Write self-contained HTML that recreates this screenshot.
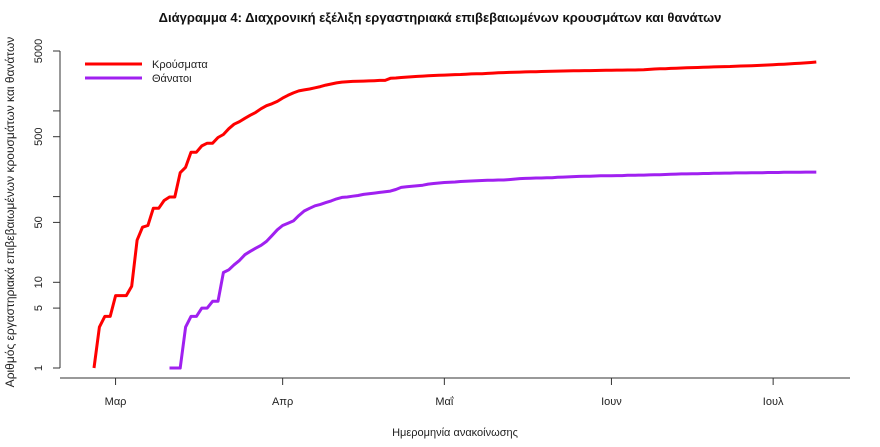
<!DOCTYPE html>
<html><head><meta charset="utf-8"><style>
body{margin:0;background:#fff;}
svg{display:block;font-family:"Liberation Sans","DejaVu Sans",sans-serif;}
</style></head><body>
<svg id="chart" width="880" height="447">
<text x="440" y="22" text-anchor="middle" font-size="13" font-weight="bold" fill="#111">Διάγραμμα 4: Διαχρονική εξέλιξη εργαστηριακά επιβεβαιωμένων κρουσμάτων και θανάτων</text>
<text transform="translate(14,212) rotate(-90)" text-anchor="middle" font-size="12" fill="#222">Αριθμός εργαστηριακά επιβεβαιωμένων κρουσμάτων και θανάτων</text>
<text x="455" y="436" text-anchor="middle" font-size="11" fill="#222">Ημερομηνία ανακοίνωσης</text>
<line x1="60" y1="51" x2="60" y2="368" stroke="#333"/>
<line x1="60" y1="378" x2="850" y2="378" stroke="#333"/>
<g id="yt"></g><g id="xt"></g><g id="series"></g>
<g>
<line x1="85" y1="64" x2="142" y2="64" stroke="#ff0000" stroke-width="3"/>
<text x="152" y="68" font-size="11" fill="#222">Κρούσματα</text>
<line x1="85" y1="78" x2="142" y2="78" stroke="#a020f0" stroke-width="3"/>
<text x="152" y="82" font-size="11" fill="#222">Θάνατοι</text>
</g>
</svg>
<script>
// day index 0 = 26 Feb
const cases = [1,3,4,4,7,7,7,9,31,44,
46,73,73,90,99,99,190,220,330,330,
390,420,420,490,530,620,700,750,820,890,
960,1060,1150,1210,1290,1410,1520,1620,1710,1760,
1800,1860,1920,2000,2060,2120,2170,2190,2210,2220,
2230,2240,2250,2270,2270,2400,2420,2450,2480,2500,
2530,2550,2570,2590,2600,2620,2630,2650,2660,2680,
2700,2710,2720,2740,2760,2780,2800,2810,2820,2840,
2850,2860,2870,2880,2890,2900,2910,2920,2930,2940,
2940,2950,2950,2960,2970,2980,2980,2990,2990,3000,
3000,3010,3020,3050,3080,3100,3110,3130,3150,3170,
3180,3200,3210,3230,3240,3260,3270,3290,3300,3320,
3340,3350,3370,3390,3410,3430,3460,3490,3510,3540,
3570,3600,3630,3670,3720];
const deathsStartDay = 14;
const deaths = [1,1,1,3,4,4,5,5,6,6,
13,14,16,18,21,23,25,27,30,35,
41,46,49,52,60,68,73,78,81,85,
89,94,98,99,101,103,106,108,110,112,
114,116,121,128,130,132,134,136,140,142,
144,146,147,148,150,151,152,153,154,155,
155,156,156,158,160,162,163,164,165,165,
166,166,168,169,170,171,172,173,173,174,
175,175,175,176,176,177,177,178,178,179,
180,180,181,182,183,184,184,185,185,186,
186,187,187,188,188,189,189,189,190,190,
190,191,191,191,192,192,192,192,193,193,193];
const yTicks = [1,5,10,50,100,500,1000,5000];
const yTickLabels = ["1","5","10","50","","500","","5000"];
const monthDays = [4,35,65,96,126];
const monthLabels = ["Μαρ","Απρ","Μαΐ","Ιουν","Ιουλ"];

const NS="http://www.w3.org/2000/svg";
function xs(d){return 94+d*5.39;}
function ys(v){return 368-Math.log10(v)*85.7;}
function mk(tag,attrs,parent){const e=document.createElementNS(NS,tag);for(const k in attrs)e.setAttribute(k,attrs[k]);parent.appendChild(e);return e;}

const yt=document.getElementById('yt');
yTicks.forEach((v,i)=>{
  const y=ys(v);
  const l=mk('line',{x1:53,y1:y,x2:60,y2:y,stroke:'#333'},yt);
  
  
  if(yTickLabels[i]){
    const t=mk('text',{transform:`translate(42,${y}) rotate(-90)`,'text-anchor':'middle','font-size':11,fill:'#222'},yt);
    t.textContent=yTickLabels[i];
    
    
  }
});
const xt=document.getElementById('xt');
monthDays.forEach((d,i)=>{
  const x=xs(d);
  const l=mk('line',{x1:x,y1:378,x2:x,y2:385,stroke:'#333'},xt);
  
  
  const t=mk('text',{x:x,y:405,'text-anchor':'middle','font-size':11,fill:'#222'},xt);
  t.textContent=monthLabels[i];
  
  
});
const sg=document.getElementById('series');
const pc=cases.map((v,i)=>xs(i).toFixed(1)+','+ys(v).toFixed(1)).join(' ');
const lc=mk('polyline',{points:pc,fill:'none',stroke:'#ff0000','stroke-width':3,'stroke-linejoin':'round'},sg);


const pd=deaths.map((v,i)=>xs(i+deathsStartDay).toFixed(1)+','+ys(v).toFixed(1)).join(' ');
const ld=mk('polyline',{points:pd,fill:'none',stroke:'#a020f0','stroke-width':3,'stroke-linejoin':'round'},sg);


</script>
</body></html>
